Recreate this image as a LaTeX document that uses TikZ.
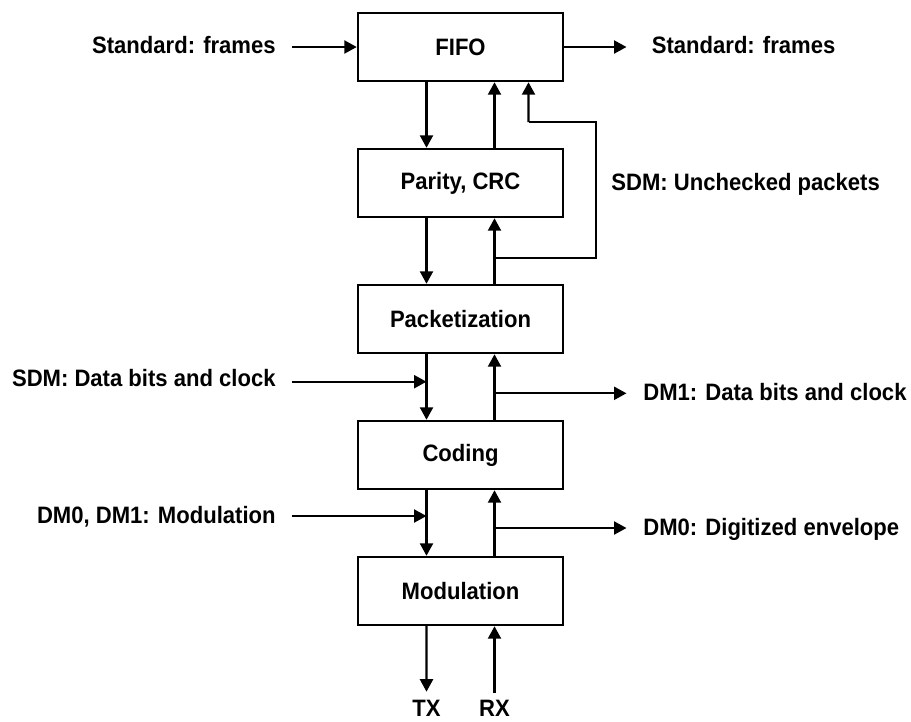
\documentclass[tikz,border=0pt]{standalone}
\usepackage{fontspec}
\setmainfont{Liberation Sans}[FakeStretch=0.93]
\usepackage{tikz}
\usetikzlibrary{arrows.meta,positioning,calc}

\tikzset{
  block/.style={draw, line width=1.4pt, minimum width=4.1cm, minimum height=1.36cm,
    inner sep=0pt, font=\fontsize{13.5}{16}\selectfont\bfseries},
  lbl/.style={inner sep=0pt, font=\fontsize{13.5}{16}\selectfont\bfseries},
  arr/.style={line width=1.3pt, -{Triangle[length=0.25cm,width=0.26cm]}},
  wire/.style={line width=1.3pt}
}

\begin{document}
\begin{tikzpicture}
        \useasboundingbox (0,0) rectangle (18.22,-14.42);

        % Blocks of the stack
        \node[block] (fifo)   at (9.21,-0.94)  {FIFO};
        \node[block] (parity) at (9.21,-3.66)  {Parity, CRC};
        \node[block] (packet) at (9.21,-6.38)  {Packetization};
        \node[block] (coding) at (9.21,-9.10)  {Coding};
        \node[block] (modul)  at (9.21,-11.82) {Modulation};

        % Down and up paths between blocks
        \foreach \a/\b in {fifo/parity, parity/packet, packet/coding, coding/modul} {
            \draw[arr] ([xshift=-0.68cm]\a.south) -- ([xshift=-0.68cm]\b.north);
            \draw[arr] ([xshift=0.68cm]\b.north) -- ([xshift=0.68cm]\a.south);
        }

        % Standard frames in and out
        \coordinate (stdin) at (5.83,-0.94);
        \coordinate (stdout) at (12.53,-0.94);
        \node[lbl, anchor=base east] (stdintxt) at (5.52,-1.067) {Standard: frames};
        \node[lbl, anchor=base west] (stdouttxt) at (13.03,-1.067) {Standard: frames};
        \draw[arr] (stdin) -- (fifo.west);
        \draw[arr] (fifo.east) -- (stdout);

        % Unchecked packets bypass
        \coordinate (bypass) at (9.89,-5.154);
        \draw[wire] (bypass) -- (11.92,-5.154) -- (11.92,-2.44) -- (10.57,-2.44)
            coordinate (bypasstop);
        \draw[arr] (bypasstop) -- ([xshift=1.36cm]fifo.south);
        \node[lbl, anchor=base west] (uncheck) at (12.22,-3.80) {SDM: Unchecked packets};

        % Data bits and clock
        \coordinate (sdmst) at (5.83,-7.634);
        \coordinate (sdmin) at (8.53,-7.634);
        \node[lbl, anchor=base east] (sdmtxt) at (5.52,-7.734) {SDM: Data bits and clock};
        \draw[arr] (sdmst) -- (sdmin);
        \coordinate (dmonest) at (9.89,-7.866);
        \coordinate (dmoneout) at (12.53,-7.866);
        \node[lbl, anchor=base west] (dmonetxt) at (12.86,-8.00) {DM1: Data bits and clock};
        \draw[arr] (dmonest) -- (dmoneout);

        % Modulation and envelope
        \coordinate (modst) at (5.83,-10.32);
        \coordinate (modin) at (8.53,-10.32);
        \node[lbl, anchor=base east] (modtxt) at (5.52,-10.466) {DM0, DM1: Modulation};
        \draw[arr] (modst) -- (modin);
        \coordinate (envst) at (9.89,-10.56);
        \coordinate (envout) at (12.53,-10.56);
        \node[lbl, anchor=base west] (envtxt) at (12.86,-10.70) {DM0: Digitized envelope};
        \draw[arr] (envst) -- (envout);

        % Radio side
        \coordinate (txend) at (8.53,-13.834);
        \coordinate (rxst) at (9.89,-13.86);
        \draw[arr] ([xshift=-0.68cm]modul.south) -- (txend);
        \draw[arr] (rxst) -- ([xshift=0.68cm]modul.south);
        \node[lbl, anchor=base] (tx) at (8.53,-14.33) {TX};
        \node[lbl, anchor=base] (rx) at (9.89,-14.33) {RX};
    \end{tikzpicture}
\end{document}
